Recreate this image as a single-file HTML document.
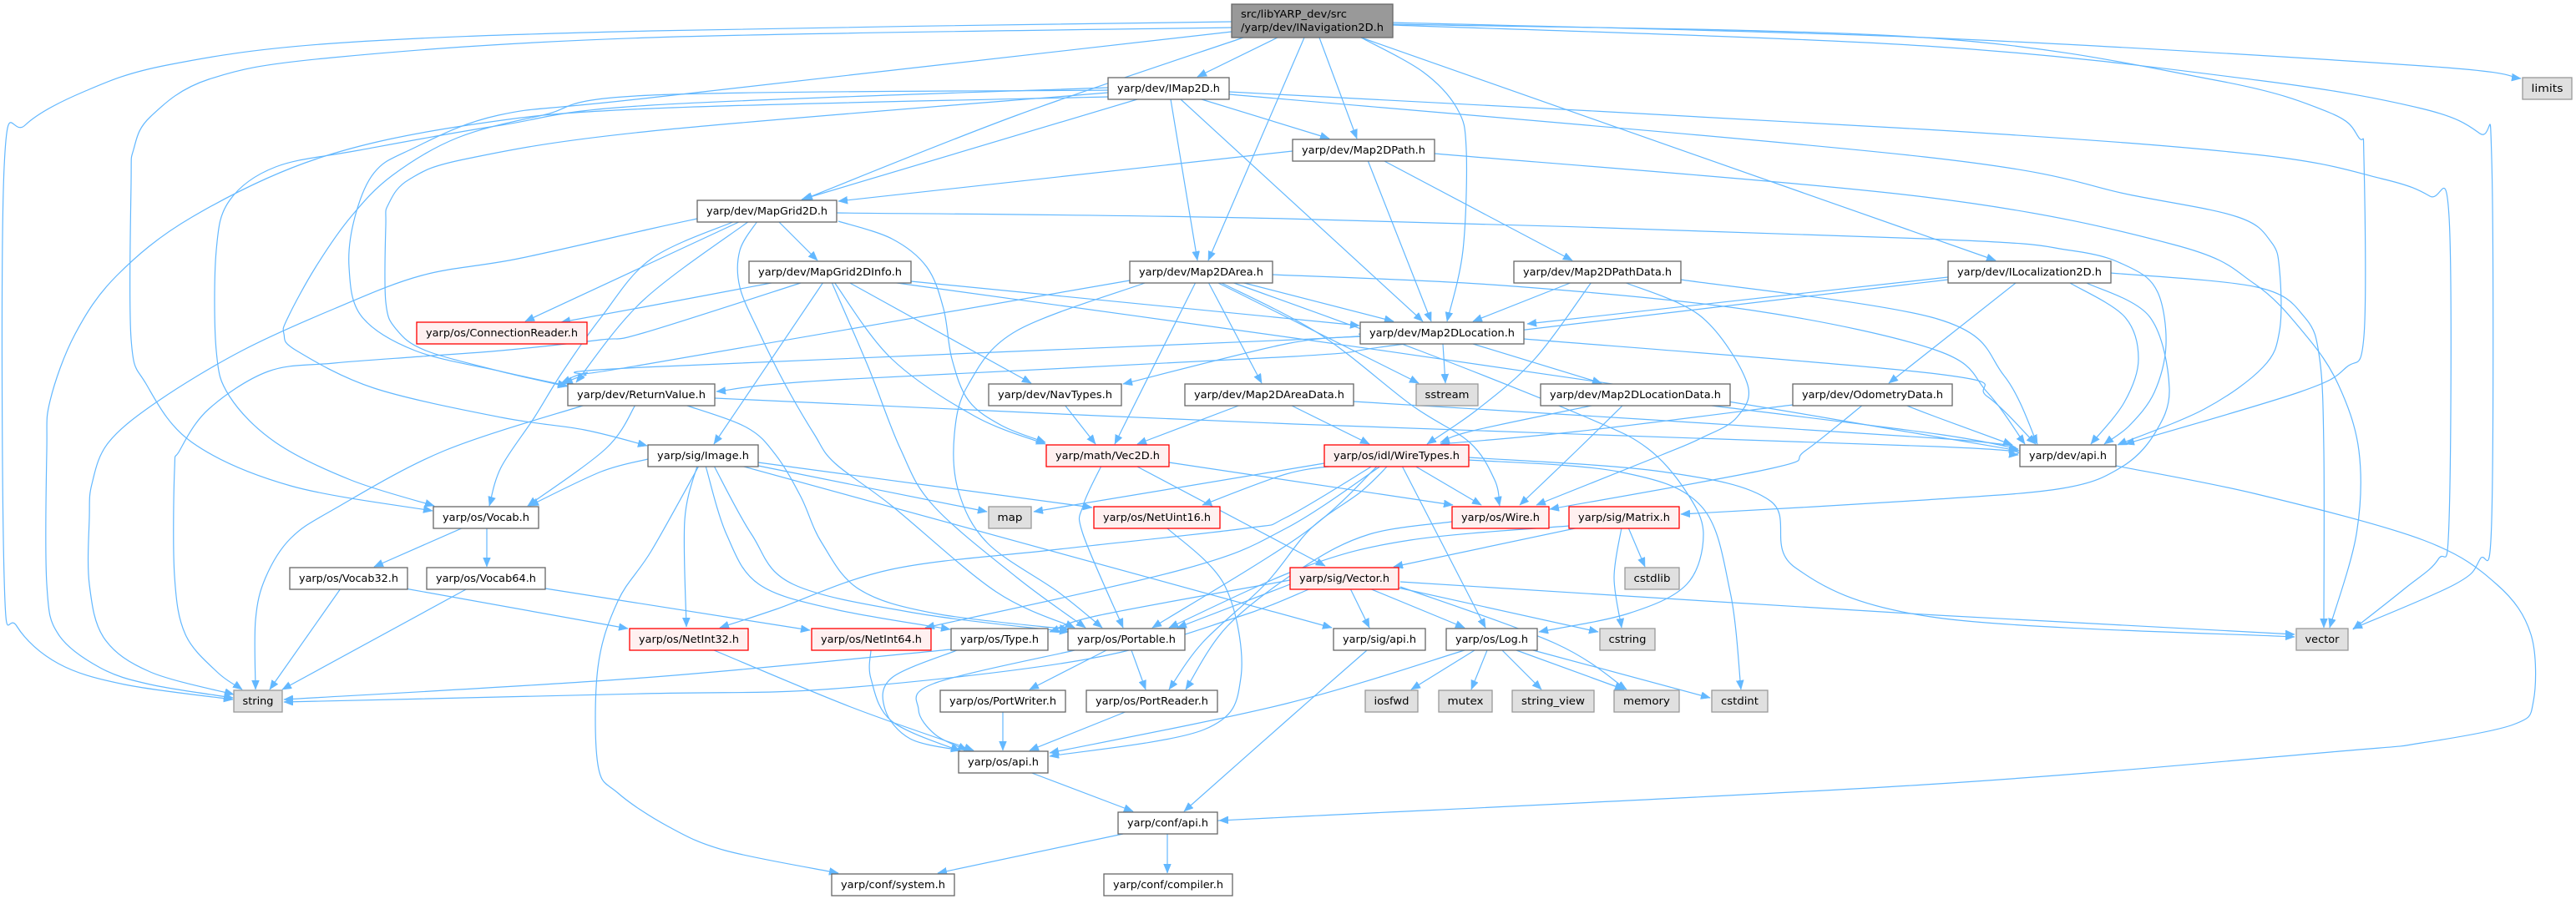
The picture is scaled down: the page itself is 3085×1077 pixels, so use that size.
<!DOCTYPE html>
<html><head><meta charset="utf-8"><style>
html,body{margin:0;padding:0;background:#fff;}
svg{display:block;}
.e{fill:none;stroke:#63B8FF;stroke-width:1.2;stroke-linejoin:round;}
.n{fill:#fff;stroke:#666;stroke-width:1.3;}
.r{fill:#FFF0F0;stroke:#FF0000;stroke-width:1.3;}
.g{fill:#E0E0E0;stroke:#999;stroke-width:1.3;}
.t{fill:#999;stroke:#666;stroke-width:1.3;}
text{font-family:"DejaVu Sans","Liberation Sans",sans-serif;font-size:12.5px;fill:#000;}
</style></head><body>
<svg width="3085" height="1077" viewBox="0 0 3085 1077" xmlns="http://www.w3.org/2000/svg">
<defs><marker id="ah" markerUnits="userSpaceOnUse" markerWidth="12" markerHeight="10" refX="11" refY="4.5" orient="auto"><path d="M0,0 L11,4.5 L0,9 z" fill="#63B8FF" stroke="#63B8FF" stroke-width="0.5"/></marker></defs>
<g id="edges">
<polyline class="e" marker-end="url(#ah)" points="1530,45 1434,92"/>
<polyline class="e" marker-end="url(#ah)" points="1580,45 1625,166"/>
<polyline class="e" marker-end="url(#ah)" points="1562,45 1447,312"/>
<polyline class="e" marker-end="url(#ah)" points="1630,45 1704,86 1745,130 1756,179 1752,300 1733,385"/>
<polyline class="e" marker-end="url(#ah)" points="1630,45 2390,312"/>
<polyline class="e" marker-end="url(#ah)" points="1489,45 1218,138 962,239"/>
<polyline class="e" marker-end="url(#ah)" points="1668,27 2305,45 2902,79 3019,94"/>
<polyline class="e" marker-end="url(#ah)" points="1668,30 2305,55 2703,96 2900,130 2970,160 2984,190 2984,623 2970,670 2940,700 2818,753"/>
<polyline class="e" marker-end="url(#ah)" points="1668,29 2305,45 2653,96 2790,135 2825,165 2831,190 2831,403 2810,440 2753,470 2545,532"/>
<polyline class="e" marker-end="url(#ah)" points="1475,26 780,37 398,52 200,78 100,110 30,150 5,200 5,692 20,750 70,795 149,820 279,838"/>
<polyline class="e" marker-end="url(#ah)" points="1475,33 780,45 398,69 250,95 180,140 160,179 157,220 157,406 175,460 230,530 348,582 518,612"/>
<polyline class="e" marker-end="url(#ah)" points="1475,38 780,117 597,138 490,180 448,207 425,260 418,320 433,379 497,420 600,445 679,462"/>
<polyline class="e" marker-end="url(#ah)" points="1362,119 960,239"/>
<polyline class="e" marker-end="url(#ah)" points="1402,119 1434,312"/>
<polyline class="e" marker-end="url(#ah)" points="1414,119 1704,385"/>
<polyline class="e" marker-end="url(#ah)" points="1439,119 1592,166"/>
<polyline class="e" marker-end="url(#ah)" points="1472,110 2305,155 2700,185 2852,214 2910,235 2933,260 2933,623 2920,670 2880,705 2818,754"/>
<polyline class="e" marker-end="url(#ah)" points="1472,113 2305,188 2554,234 2680,260 2720,290 2730,324 2730,396 2710,440 2640,490 2536,533"/>
<polyline class="e" marker-end="url(#ah)" points="1327,111 780,157 560,190 490,215 465,245 462,270 462,362 475,395 510,420 600,445 679,463"/>
<polyline class="e" marker-end="url(#ah)" points="1327,105 780,126 600,150 430,180 330,200 275,240 259,300 259,420 275,475 330,530 420,575 520,606"/>
<polyline class="e" marker-end="url(#ah)" points="1327,108 780,114 650,138 548,165 470,210 420,260 378,320 345,380 340,400 355,420 448,465 600,500 700,515 775,534"/>
<polyline class="e" marker-end="url(#ah)" points="1327,116 780,130 560,150 380,190 230,260 140,330 90,400 60,480 56,540 56,700 70,760 120,800 180,820 279,836"/>
<polyline class="e" marker-end="url(#ah)" points="932,265 979,312"/>
<polyline class="e" marker-end="url(#ah)" points="1002,255 1540,262 2305,286 2480,300 2550,320 2584,350 2594,413 2580,470 2550,510 2520,532"/>
<polyline class="e" marker-end="url(#ah)" points="1004,265 1068,286 1110,320 1130,370 1140,430 1160,480 1200,510 1252,530"/>
<polyline class="e" marker-end="url(#ah)" points="907,265 886,300 886,344 910,400 940,460 975,520 1000,555 1068,606 1193,709 1287,752"/>
<polyline class="e" marker-end="url(#ah)" points="887,265 629,385"/>
<polyline class="e" marker-end="url(#ah)" points="897,265 770,360 690,458"/>
<polyline class="e" marker-end="url(#ah)" points="835,262 780,274 620,310 505,330 400,370 290,420 190,480 130,530 110,580 107,620 107,700 125,765 180,805 280,832"/>
<polyline class="e" marker-end="url(#ah)" points="880,265 780,310 720,380 672,448 640,500 600,560 586,606"/>
<polyline class="e" marker-end="url(#ah)" points="1091,337 1628,390"/>
<polyline class="e" marker-end="url(#ah)" points="1067,338 1550,405 2000,470 2300,520 2418,540"/>
<polyline class="e" marker-end="url(#ah)" points="1016,338 1235,459"/>
<polyline class="e" marker-end="url(#ah)" points="999,338 1068,430 1168,499 1252,532"/>
<polyline class="e" marker-end="url(#ah)" points="996,338 1040,440 1078,537 1118,606 1218,692 1300,752"/>
<polyline class="e" marker-end="url(#ah)" points="986,338 855,532"/>
<polyline class="e" marker-end="url(#ah)" points="929,338 770,368 672,386"/>
<polyline class="e" marker-end="url(#ah)" points="962,338 770,399 720,407 600,420 505,427 400,435 321,445 250,490 215,540 209,563 209,690 222,760 260,805 290,826"/>
<polyline class="e" marker-end="url(#ah)" points="1486,338 1669,385"/>
<polyline class="e" marker-end="url(#ah)" points="1524,329 1800,342 2100,372 2320,420 2380,470 2425,532"/>
<polyline class="e" marker-end="url(#ah)" points="1447,338 1511,459"/>
<polyline class="e" marker-end="url(#ah)" points="1432,338 1335,532"/>
<polyline class="e" marker-end="url(#ah)" points="1374,338 1218,396 1160,460 1143,520 1148,589 1183,651 1267,709 1320,752"/>
<polyline class="e" marker-end="url(#ah)" points="1353,336 770,437 700,447 672,459"/>
<polyline class="e" marker-end="url(#ah)" points="1457,338 1699,459"/>
<polyline class="e" marker-end="url(#ah)" points="1461,338 1580,400 1690,485 1760,530 1790,575 1796,606"/>
<polyline class="e" marker-end="url(#ah)" points="1475,338 1700,420 1900,500 1973,537 2020,590 2040,640 2020,700 1950,735 1843,757"/>
<polyline class="e" marker-end="url(#ah)" points="1548,181 1004,241"/>
<polyline class="e" marker-end="url(#ah)" points="1638,192 1714,385"/>
<polyline class="e" marker-end="url(#ah)" points="1656,192 1883,312"/>
<polyline class="e" marker-end="url(#ah)" points="1718,184 2305,236 2603,293 2700,340 2760,400 2800,460 2825,540 2822,640 2790,752"/>
<polyline class="e" marker-end="url(#ah)" points="1883,338 1764,385"/>
<polyline class="e" marker-end="url(#ah)" points="1906,338 1838,430 1770,490 1709,532"/>
<polyline class="e" marker-end="url(#ah)" points="2013,335 2320,382 2400,450 2440,532"/>
<polyline class="e" marker-end="url(#ah)" points="1945,338 2037,379 2092,458 2080,500 2037,525 1990,545 1840,605"/>
<polyline class="e" marker-end="url(#ah)" points="2333,332 1829,388"/>
<polyline class="e" marker-end="url(#ah)" points="2414,339 2262,459"/>
<polyline class="e" marker-end="url(#ah)" points="2479,339 2544,379 2561,430 2544,482 2504,532"/>
<polyline class="e" marker-end="url(#ah)" points="2499,339 2574,379 2598,465 2580,520 2540,560 2470,585 2305,599 2013,616"/>
<polyline class="e" marker-end="url(#ah)" points="2528,327 2703,344 2760,380 2778,430 2783,540 2783,752"/>
<polyline class="e" marker-end="url(#ah)" points="2333,335 1700,410 1550,427 1000,455 858,469"/>
<polyline class="e" marker-end="url(#ah)" points="2147,485 1888,517 1725,532"/>
<polyline class="e" marker-end="url(#ah)" points="2281,485 2320,500 2410,533"/>
<polyline class="e" marker-end="url(#ah)" points="2231,485 2162,540 2122,561 1856,610"/>
<polyline class="e" marker-end="url(#ah)" points="1728,412 1731,459"/>
<polyline class="e" marker-end="url(#ah)" points="1764,412 1918,459"/>
<polyline class="e" marker-end="url(#ah)" points="1825,406 2320,448 2380,475 2438,532"/>
<polyline class="e" marker-end="url(#ah)" points="1629,403 1540,412 1345,460"/>
<polyline class="e" marker-end="url(#ah)" points="1629,400 1550,407 770,440 700,450 675,460"/>
<polyline class="e" marker-end="url(#ah)" points="856,477 1550,508 2320,535 2417,545"/>
<polyline class="e" marker-end="url(#ah)" points="761,485 726,537 632,606"/>
<polyline class="e" marker-end="url(#ah)" points="701,485 532,540 400,610 348,645 318,692 306,743 306,826"/>
<polyline class="e" marker-end="url(#ah)" points="820,485 894,512 929,545 959,595 984,650 1029,706 1120,735 1280,754"/>
<polyline class="e" marker-end="url(#ah)" points="1486,485 1362,532"/>
<polyline class="e" marker-end="url(#ah)" points="1545,485 1640,532"/>
<polyline class="e" marker-end="url(#ah)" points="1621,481 2320,525 2417,540"/>
<polyline class="e" marker-end="url(#ah)" points="1275,485 1312,532"/>
<polyline class="e" marker-end="url(#ah)" points="1911,485 1764,516 1725,530"/>
<polyline class="e" marker-end="url(#ah)" points="2042,485 2320,520 2417,538"/>
<polyline class="e" marker-end="url(#ah)" points="1944,485 1888,540 1820,605"/>
<polyline class="e" marker-end="url(#ah)" points="776,550 720,565 634,606"/>
<polyline class="e" marker-end="url(#ah)" points="908,558 1182,613"/>
<polyline class="e" marker-end="url(#ah)" points="908,554 1308,608"/>
<polyline class="e" marker-end="url(#ah)" points="835,558 820,623 822,751"/>
<polyline class="e" marker-end="url(#ah)" points="855,558 900,640 950,700 1100,735 1280,757"/>
<polyline class="e" marker-end="url(#ah)" points="845,558 870,640 909,700 1000,730 1138,754"/>
<polyline class="e" marker-end="url(#ah)" points="837,558 780,660 740,720 716,800 716,916 740,950 800,990 869,1019 1004,1046"/>
<polyline class="e" marker-end="url(#ah)" points="887,558 1595,752"/>
<polyline class="e" marker-end="url(#ah)" points="1319,558 1297,606 1297,640 1345,752"/>
<polyline class="e" marker-end="url(#ah)" points="1360,558 1587,678"/>
<polyline class="e" marker-end="url(#ah)" points="1400,554 1740,605"/>
<polyline class="e" marker-end="url(#ah)" points="1694,558 1774,605"/>
<polyline class="e" marker-end="url(#ah)" points="1679,558 1779,752"/>
<polyline class="e" marker-end="url(#ah)" points="1600,558 1540,568 1440,605"/>
<polyline class="e" marker-end="url(#ah)" points="1644,558 1540,620 1491,633 1268,658 1068,682 929,730 862,752"/>
<polyline class="e" marker-end="url(#ah)" points="1654,558 1540,633 1417,682 1108,752"/>
<polyline class="e" marker-end="url(#ah)" points="1662,558 1630,589 1570,633 1516,699 1440,770 1400,826"/>
<polyline class="e" marker-end="url(#ah)" points="1586,555 1238,613"/>
<polyline class="e" marker-end="url(#ah)" points="1759,551 1938,565 2037,606 2072,709 2085,826"/>
<polyline class="e" marker-end="url(#ah)" points="1759,548 1990,565 2120,600 2150,680 2320,740 2748,763"/>
<polyline class="e" marker-end="url(#ah)" points="1650,558 1560,640 1380,752"/>
<polyline class="e" marker-end="url(#ah)" points="1891,632 1669,679"/>
<polyline class="e" marker-end="url(#ah)" points="1950,632 1970,679"/>
<polyline class="e" marker-end="url(#ah)" points="1942,632 1933,692 1942,752"/>
<polyline class="e" marker-end="url(#ah)" points="1879,630 1689,647 1560,680 1400,752"/>
<polyline class="e" marker-end="url(#ah)" points="1739,625 1640,640 1560,680 1470,750 1420,826"/>
<polyline class="e" marker-end="url(#ah)" points="1617,705 1640,752"/>
<polyline class="e" marker-end="url(#ah)" points="1640,705 1754,752"/>
<polyline class="e" marker-end="url(#ah)" points="1674,704 1914,757"/>
<polyline class="e" marker-end="url(#ah)" points="1677,703 1863,771 1948,826"/>
<polyline class="e" marker-end="url(#ah)" points="1677,697 2320,737 2748,760"/>
<polyline class="e" marker-end="url(#ah)" points="1545,700 1410,752"/>
<polyline class="e" marker-end="url(#ah)" points="1545,695 1317,737 1257,757"/>
<polyline class="e" marker-end="url(#ah)" points="1570,705 1480,740 1300,790 1000,825 770,831 340,841"/>
<polyline class="e" marker-end="url(#ah)" points="1766,779 1690,826"/>
<polyline class="e" marker-end="url(#ah)" points="1781,779 1762,826"/>
<polyline class="e" marker-end="url(#ah)" points="1799,779 1846,826"/>
<polyline class="e" marker-end="url(#ah)" points="1816,779 1945,826"/>
<polyline class="e" marker-end="url(#ah)" points="1836,779 2048,836"/>
<polyline class="e" marker-end="url(#ah)" points="1754,779 1540,843 1257,902"/>
<polyline class="e" marker-end="url(#ah)" points="1637,779 1540,864 1418,972"/>
<polyline class="e" marker-end="url(#ah)" points="2534,558 2703,592 2902,647 2990,700 3031,760 3034,840 3010,868 2900,890 2802,900 2305,940 1540,979 1460,983"/>
<polyline class="e" marker-end="url(#ah)" points="1325,779 1233,826"/>
<polyline class="e" marker-end="url(#ah)" points="1355,779 1372,826"/>
<polyline class="e" marker-end="url(#ah)" points="1287,779 1118,819 1100,850 1120,880 1158,899"/>
<polyline class="e" marker-end="url(#ah)" points="1146,779 1068,812 1060,850 1090,885 1150,899"/>
<polyline class="e" marker-end="url(#ah)" points="1139,778 770,812 340,838"/>
<polyline class="e" marker-end="url(#ah)" points="1043,779 1043,813 1068,864 1150,900"/>
<polyline class="e" marker-end="url(#ah)" points="855,779 1019,847 1166,899"/>
<polyline class="e" marker-end="url(#ah)" points="1397,632 1467,702 1486,812 1442,874 1257,906"/>
<polyline class="e" marker-end="url(#ah)" points="1201,852 1201,899"/>
<polyline class="e" marker-end="url(#ah)" points="1350,852 1233,899"/>
<polyline class="e" marker-end="url(#ah)" points="1233,925 1357,972"/>
<polyline class="e" marker-end="url(#ah)" points="1345,999 1123,1046"/>
<polyline class="e" marker-end="url(#ah)" points="1398,999 1398,1046"/>
<polyline class="e" marker-end="url(#ah)" points="555,632 448,679"/>
<polyline class="e" marker-end="url(#ah)" points="583,632 583,679"/>
<polyline class="e" marker-end="url(#ah)" points="408,705 323,826"/>
<polyline class="e" marker-end="url(#ah)" points="485,705 752,753"/>
<polyline class="e" marker-end="url(#ah)" points="560,705 338,826"/>
<polyline class="e" marker-end="url(#ah)" points="653,705 970,755"/>
</g>
<g id="nodes">
<rect class="t" x="1475" y="5" width="193" height="40"/>
<text x="1486" y="21" textLength="127" lengthAdjust="spacingAndGlyphs">src/libYARP_dev/src</text>
<text x="1486" y="37" textLength="171" lengthAdjust="spacingAndGlyphs">/yarp/dev/INavigation2D.h</text>

<rect class="n" x="1327" y="93" width="145" height="26"/><text x="1399.5" y="110" text-anchor="middle" textLength="123" lengthAdjust="spacingAndGlyphs">yarp/dev/IMap2D.h</text>
<rect class="g" x="3021" y="93" width="59" height="26"/><text x="3050.5" y="110" text-anchor="middle" textLength="38" lengthAdjust="spacingAndGlyphs">limits</text>
<rect class="n" x="1548" y="167" width="170" height="26"/><text x="1633" y="184" text-anchor="middle" textLength="148" lengthAdjust="spacingAndGlyphs">yarp/dev/Map2DPath.h</text>
<rect class="n" x="835" y="240" width="167" height="26"/><text x="918.5" y="257" text-anchor="middle" textLength="145" lengthAdjust="spacingAndGlyphs">yarp/dev/MapGrid2D.h</text>
<rect class="n" x="897" y="313" width="194" height="26"/><text x="994" y="330" text-anchor="middle" textLength="172" lengthAdjust="spacingAndGlyphs">yarp/dev/MapGrid2DInfo.h</text>
<rect class="n" x="1353" y="313" width="171" height="26"/><text x="1438.5" y="330" text-anchor="middle" textLength="149" lengthAdjust="spacingAndGlyphs">yarp/dev/Map2DArea.h</text>
<rect class="n" x="1813" y="313" width="200" height="26"/><text x="1913" y="330" text-anchor="middle" textLength="178" lengthAdjust="spacingAndGlyphs">yarp/dev/Map2DPathData.h</text>
<rect class="n" x="2333" y="313" width="195" height="26"/><text x="2430.5" y="330" text-anchor="middle" textLength="173" lengthAdjust="spacingAndGlyphs">yarp/dev/ILocalization2D.h</text>
<rect class="r" x="499" y="386" width="204" height="26"/><text x="601" y="403" text-anchor="middle" textLength="182" lengthAdjust="spacingAndGlyphs">yarp/os/ConnectionReader.h</text>
<rect class="n" x="1629" y="386" width="196" height="26"/><text x="1727" y="403" text-anchor="middle" textLength="174" lengthAdjust="spacingAndGlyphs">yarp/dev/Map2DLocation.h</text>
<rect class="n" x="680" y="460" width="176" height="26"/><text x="768" y="477" text-anchor="middle" textLength="154" lengthAdjust="spacingAndGlyphs">yarp/dev/ReturnValue.h</text>
<rect class="n" x="1184" y="460" width="159" height="26"/><text x="1263.5" y="477" text-anchor="middle" textLength="137" lengthAdjust="spacingAndGlyphs">yarp/dev/NavTypes.h</text>
<rect class="n" x="1419" y="460" width="202" height="26"/><text x="1520" y="477" text-anchor="middle" textLength="180" lengthAdjust="spacingAndGlyphs">yarp/dev/Map2DAreaData.h</text>
<rect class="g" x="1696" y="460" width="74" height="26"/><text x="1733" y="477" text-anchor="middle" textLength="53" lengthAdjust="spacingAndGlyphs">sstream</text>
<rect class="n" x="1845" y="460" width="227" height="26"/><text x="1958.5" y="477" text-anchor="middle" textLength="205" lengthAdjust="spacingAndGlyphs">yarp/dev/Map2DLocationData.h</text>
<rect class="n" x="2147" y="460" width="191" height="26"/><text x="2242.5" y="477" text-anchor="middle" textLength="169" lengthAdjust="spacingAndGlyphs">yarp/dev/OdometryData.h</text>
<rect class="n" x="776" y="533" width="132" height="26"/><text x="842" y="550" text-anchor="middle" textLength="110" lengthAdjust="spacingAndGlyphs">yarp/sig/Image.h</text>
<rect class="r" x="1253" y="533" width="147" height="26"/><text x="1326.5" y="550" text-anchor="middle" textLength="125" lengthAdjust="spacingAndGlyphs">yarp/math/Vec2D.h</text>
<rect class="r" x="1586" y="533" width="173" height="26"/><text x="1672.5" y="550" text-anchor="middle" textLength="151" lengthAdjust="spacingAndGlyphs">yarp/os/idl/WireTypes.h</text>
<rect class="n" x="2419" y="533" width="115" height="26"/><text x="2476.5" y="550" text-anchor="middle" textLength="93" lengthAdjust="spacingAndGlyphs">yarp/dev/api.h</text>
<rect class="n" x="519" y="607" width="126" height="26"/><text x="582" y="624" text-anchor="middle" textLength="104" lengthAdjust="spacingAndGlyphs">yarp/os/Vocab.h</text>
<rect class="g" x="1184" y="607" width="51" height="26"/><text x="1209.5" y="624" text-anchor="middle" textLength="30" lengthAdjust="spacingAndGlyphs">map</text>
<rect class="r" x="1310" y="607" width="151" height="26"/><text x="1385.5" y="624" text-anchor="middle" textLength="129" lengthAdjust="spacingAndGlyphs">yarp/os/NetUint16.h</text>
<rect class="r" x="1739" y="607" width="116" height="26"/><text x="1797" y="624" text-anchor="middle" textLength="94" lengthAdjust="spacingAndGlyphs">yarp/os/Wire.h</text>
<rect class="r" x="1879" y="607" width="132" height="26"/><text x="1945" y="624" text-anchor="middle" textLength="110" lengthAdjust="spacingAndGlyphs">yarp/sig/Matrix.h</text>
<rect class="n" x="347" y="680" width="141" height="26"/><text x="417.5" y="697" text-anchor="middle" textLength="119" lengthAdjust="spacingAndGlyphs">yarp/os/Vocab32.h</text>
<rect class="n" x="511" y="680" width="142" height="26"/><text x="582" y="697" text-anchor="middle" textLength="120" lengthAdjust="spacingAndGlyphs">yarp/os/Vocab64.h</text>
<rect class="r" x="1545" y="680" width="130" height="26"/><text x="1610" y="697" text-anchor="middle" textLength="108" lengthAdjust="spacingAndGlyphs">yarp/sig/Vector.h</text>
<rect class="g" x="1946" y="680" width="65" height="26"/><text x="1978.5" y="697" text-anchor="middle" textLength="44" lengthAdjust="spacingAndGlyphs">cstdlib</text>
<rect class="r" x="754" y="753" width="142" height="26"/><text x="825" y="770" text-anchor="middle" textLength="120" lengthAdjust="spacingAndGlyphs">yarp/os/NetInt32.h</text>
<rect class="r" x="972" y="753" width="143" height="26"/><text x="1043.5" y="770" text-anchor="middle" textLength="121" lengthAdjust="spacingAndGlyphs">yarp/os/NetInt64.h</text>
<rect class="n" x="1139" y="753" width="116" height="26"/><text x="1197" y="770" text-anchor="middle" textLength="94" lengthAdjust="spacingAndGlyphs">yarp/os/Type.h</text>
<rect class="n" x="1279" y="753" width="140" height="26"/><text x="1349" y="770" text-anchor="middle" textLength="118" lengthAdjust="spacingAndGlyphs">yarp/os/Portable.h</text>
<rect class="n" x="1597" y="753" width="110" height="26"/><text x="1652" y="770" text-anchor="middle" textLength="88" lengthAdjust="spacingAndGlyphs">yarp/sig/api.h</text>
<rect class="n" x="1732" y="753" width="109" height="26"/><text x="1786.5" y="770" text-anchor="middle" textLength="87" lengthAdjust="spacingAndGlyphs">yarp/os/Log.h</text>
<rect class="g" x="1916" y="753" width="66" height="26"/><text x="1949" y="770" text-anchor="middle" textLength="45" lengthAdjust="spacingAndGlyphs">cstring</text>
<rect class="g" x="2750" y="753" width="62" height="26"/><text x="2781" y="770" text-anchor="middle" textLength="41" lengthAdjust="spacingAndGlyphs">vector</text>
<rect class="g" x="280" y="827" width="58" height="26"/><text x="309" y="844" text-anchor="middle" textLength="37" lengthAdjust="spacingAndGlyphs">string</text>
<rect class="n" x="1126" y="827" width="150" height="26"/><text x="1201" y="844" text-anchor="middle" textLength="128" lengthAdjust="spacingAndGlyphs">yarp/os/PortWriter.h</text>
<rect class="n" x="1301" y="827" width="157" height="26"/><text x="1379.5" y="844" text-anchor="middle" textLength="135" lengthAdjust="spacingAndGlyphs">yarp/os/PortReader.h</text>
<rect class="g" x="1635" y="827" width="63" height="26"/><text x="1666.5" y="844" text-anchor="middle" textLength="42" lengthAdjust="spacingAndGlyphs">iosfwd</text>
<rect class="g" x="1723" y="827" width="64" height="26"/><text x="1755" y="844" text-anchor="middle" textLength="43" lengthAdjust="spacingAndGlyphs">mutex</text>
<rect class="g" x="1811" y="827" width="98" height="26"/><text x="1860" y="844" text-anchor="middle" textLength="76" lengthAdjust="spacingAndGlyphs">string_view</text>
<rect class="g" x="1933" y="827" width="78" height="26"/><text x="1972" y="844" text-anchor="middle" textLength="56" lengthAdjust="spacingAndGlyphs">memory</text>
<rect class="g" x="2050" y="827" width="67" height="26"/><text x="2083.5" y="844" text-anchor="middle" textLength="45" lengthAdjust="spacingAndGlyphs">cstdint</text>
<rect class="n" x="1148" y="900" width="107" height="26"/><text x="1201.5" y="917" text-anchor="middle" textLength="85" lengthAdjust="spacingAndGlyphs">yarp/os/api.h</text>
<rect class="n" x="1339" y="973" width="119" height="26"/><text x="1398.5" y="990" text-anchor="middle" textLength="97" lengthAdjust="spacingAndGlyphs">yarp/conf/api.h</text>
<rect class="n" x="996" y="1047" width="147" height="26"/><text x="1069.5" y="1064" text-anchor="middle" textLength="125" lengthAdjust="spacingAndGlyphs">yarp/conf/system.h</text>
<rect class="n" x="1322" y="1047" width="154" height="26"/><text x="1399" y="1064" text-anchor="middle" textLength="132" lengthAdjust="spacingAndGlyphs">yarp/conf/compiler.h</text>
</g>
</svg>
<script>
(function(){
var NS='http://www.w3.org/2000/svg';
var pls=document.querySelectorAll('polyline.e');
for(var k=0;k<pls.length;k++){
 var pl=pls[k];
 var nums=pl.getAttribute('points').trim().split(/[\s,]+/).map(Number);
 var p=[];for(var i=0;i<nums.length;i+=2)p.push([nums[i],nums[i+1]]);
 if(p.length<3)continue;
 var d='M'+p[0][0]+','+p[0][1];
 for(var i=0;i<p.length-1;i++){
  var p0=p[i-1]||p[i],p1=p[i],p2=p[i+1],p3=p[i+2]||p2;
  var c1x=p1[0]+(p2[0]-p0[0])/6,c1y=p1[1]+(p2[1]-p0[1])/6;
  var c2x=p2[0]-(p3[0]-p1[0])/6,c2y=p2[1]-(p3[1]-p1[1])/6;
  d+='C'+c1x.toFixed(1)+','+c1y.toFixed(1)+' '+c2x.toFixed(1)+','+c2y.toFixed(1)+' '+p2[0]+','+p2[1];
 }
 var path=document.createElementNS(NS,'path');
 path.setAttribute('d',d);path.setAttribute('class','e');path.setAttribute('marker-end','url(#ah)');
 pl.parentNode.replaceChild(path,pl);
}
})();
</script>
</body></html>
